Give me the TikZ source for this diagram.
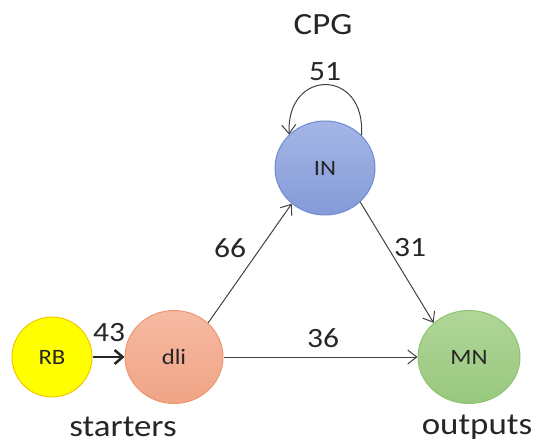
\documentclass[tikz,border=0pt]{standalone}
\usepackage{fontspec}
\setmainfont{Carlito}[FakeStretch=1.13]
\usetikzlibrary{shapes.geometric,arrows.meta}
\definecolor{txt}{HTML}{262626}
\definecolor{edgec}{HTML}{404040}
\tikzset{
  neuron/.style={ellipse, inner sep=0pt, font=\fontsize{22}{22}\selectfont, text=txt, line width=1pt},
  biglbl/.style={font=\fontsize{31}{31}\selectfont, text=txt, inner sep=0pt},
  numlbl/.style={font=\fontsize{28}{28}\selectfont, text=txt, inner sep=0pt},
  conn/.style={draw=edgec, line width=1pt, -{Straight Barb[length=9bp,width=14bp]}},
  thickconn/.style={draw=txt, line width=2.5pt, -{Straight Barb[length=8bp,width=14bp]}},
}
\begin{document}
\begin{tikzpicture}[x=1bp,y=-1bp]
\useasboundingbox (0,0) rectangle (539,443);
\node[neuron, minimum width=80bp, minimum height=80bp, draw={rgb,255:red,240;green,200;blue,0}, fill={rgb,255:red,255;green,255;blue,0}] (RB) at (52,357) {RB};
\node[neuron, minimum width=98bp, minimum height=93bp, draw={rgb,255:red,240;green,150;blue,110}, top color={rgb,255:red,246;green,186;blue,162}, bottom color={rgb,255:red,240;green,164;blue,134}] (dli) at (174,357) {dli};
\node[neuron, minimum width=100bp, minimum height=94bp, draw={rgb,255:red,110;green,138;blue,212}, top color={rgb,255:red,164;green,182;blue,230}, bottom color={rgb,255:red,132;green,155;blue,215}] (IN) at (325,168) {IN};
\node[neuron, minimum width=102bp, minimum height=93bp, draw={rgb,255:red,140;green,196;blue,110}, top color={rgb,255:red,176;green,214;blue,152}, bottom color={rgb,255:red,152;green,200;blue,126}] (MN) at (469,357) {MN};

\draw[thickconn] (RB) -- (dli);
\draw[conn] (dli.45) -- (IN.227);
\draw[conn] (IN.316) -- (MN.136);
\draw[conn] (dli.east) -- (MN.west);
\draw[conn] (IN.42) .. controls (366,68) and (286,68) .. (IN.137);

\node[biglbl] (cpg) at (323,25) {CPG};
\node[numlbl] (l51) at (325,72) {51};
\node[numlbl] (l66) at (230,248) {66};
\node[numlbl] (l31) at (410,248) {31};
\node[numlbl] (l36) at (323,338) {36};
\node[numlbl] (l43) at (109,333) {43};
\node[biglbl] (st) at (123,427) {starters};
\node[biglbl] (out) at (477,427) {outputs};
\end{tikzpicture}
\end{document}
